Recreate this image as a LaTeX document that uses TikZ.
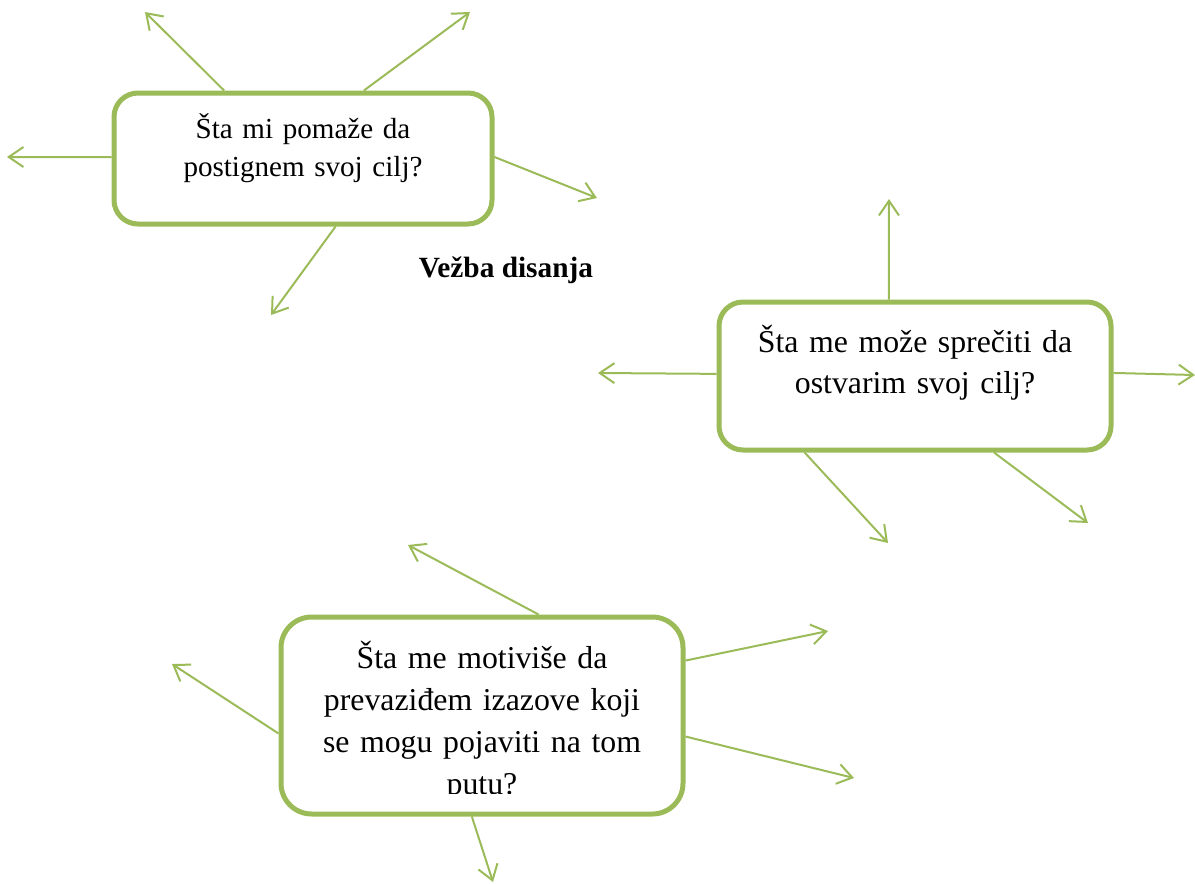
\documentclass[tikz,border=0pt]{standalone}
\usepackage{fontspec}
\setmainfont{Liberation Serif}
\usetikzlibrary{arrows.meta,calc}
\definecolor{ogreen}{HTML}{9BBB59}
\tikzset{
  box/.style={draw=ogreen, line width=3.75pt, rounded corners=18pt, fill=white},
  arr/.style={draw=ogreen, line width=1.5pt, -{Straight Barb[length=11pt,width=15pt]}},
  txt/.style={anchor=base, align=center, text width=330pt, inner sep=0pt},
}
\begin{document}
\begin{tikzpicture}[x=0.75pt,y=-0.75pt]
\useasboundingbox (0,0) rectangle (1195,883);
% boxes
\node[box, minimum width=283.5pt, minimum height=98.25pt] (b1) at (303,158.5) {};
\node[box, minimum width=294pt, minimum height=111pt] (b2) at (915,376) {};
\node[box, rounded corners=23pt, minimum width=301.5pt, minimum height=147.75pt] (b3) at (482,715.5) {};
% texts
\node[txt, font=\fontsize{21.8}{29.2}\selectfont] (t1) at (303,138) {Šta mi pomaže da\\postignem svoj cilj?};
\node[txt, font=\fontsize{23.85}{30.75}\selectfont] (t2) at (915,352) {Šta me može sprečiti da\\ostvarim svoj cilj?};
\begin{scope}
\clip (285,620) rectangle (680,793);
\node[txt, font=\fontsize{23.85}{31.5}\selectfont] (t3) at (482,668) {Šta me motiviše da\\prevaziđem izazove koji\\se mogu pojaviti na tom\\putu?};
\end{scope}
\node[anchor=base, inner sep=0pt, font=\fontsize{22}{26}\selectfont\bfseries] (vd) at (506,277) {Vežba disanja};
% free ends
\coordinate (e11) at (145,12);
\coordinate (e12) at (470,12);
\coordinate (e13) at (7,157);
\coordinate (e14) at (597,198);
\coordinate (e15) at (271,315);
\coordinate (e21) at (889,199);
\coordinate (e22) at (598,373);
\coordinate (e23) at (1195,375);
\coordinate (e24) at (888,543);
\coordinate (e25) at (1088,523);
\coordinate (e31) at (408,545);
\coordinate (e32) at (172,664);
\coordinate (e33) at (828,631);
\coordinate (e34) at (854,778);
\coordinate (e35) at (493,882);
% arrows box 1
\draw[arr] ($(b1.north west)!0.294!(b1.north east)$) -- (e11);
\draw[arr] ($(b1.north west)!0.659!(b1.north east)$) -- (e12);
\draw[arr] ($(b1.north west)!0.489!(b1.south west)$) -- (e13);
\draw[arr] ($(b1.north east)!0.489!(b1.south east)$) -- (e14);
\draw[arr] ($(b1.south west)!0.585!(b1.south east)$) -- (e15);
% arrows box 2
\draw[arr] ($(b2.north west)!0.434!(b2.north east)$) -- (e21);
\draw[arr] ($(b2.north west)!0.486!(b2.south west)$) -- (e22);
\draw[arr] ($(b2.north east)!0.48!(b2.south east)$) -- (e23);
\draw[arr] ($(b2.south west)!0.222!(b2.south east)$) -- (e24);
\draw[arr] ($(b2.south west)!0.699!(b2.south east)$) -- (e25);
% arrows box 3
\draw[arr] ($(b3.north west)!0.639!(b3.north east)$) -- (e31);
\draw[arr] ($(b3.north west)!0.589!(b3.south west)$) -- (e32);
\draw[arr] ($(b3.north east)!0.228!(b3.south east)$) -- (e33);
\draw[arr] ($(b3.north east)!0.604!(b3.south east)$) -- (e34);
\draw[arr] ($(b3.south west)!0.475!(b3.south east)$) -- (e35);
\end{tikzpicture}
\end{document}
